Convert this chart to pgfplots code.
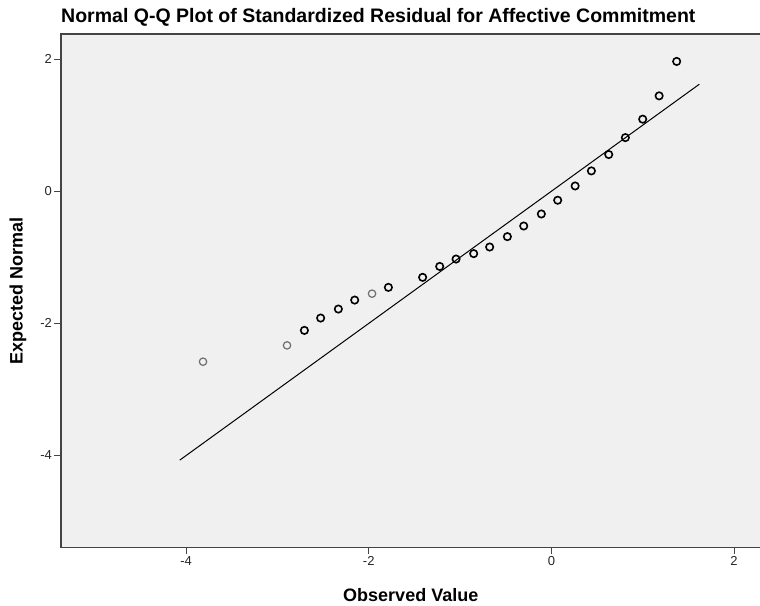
\documentclass[border=0pt]{standalone}
\usepackage{pgfplots}
\pgfplotsset{compat=1.18}
\usepackage{fontspec}
\setmainfont{Liberation Sans}
\definecolor{plotbg}{HTML}{F0F0F0}
\definecolor{framec}{HTML}{444444}
\definecolor{lightpt}{HTML}{6E6E6E}

\begin{document}
\begin{tikzpicture}
\begin{axis}[
  name=ax,
  scale only axis,
  width=699pt,
  height=513pt,
  xmin=-5.37, xmax=2.29,
  ymin=-5.39, ymax=2.38,
  xtick={-4,-2,0,2},
  xticklabels={{-4},{-2},{0},{2}},
  ytick={-4,-2,0,2},
  yticklabels={{-4},{-2},{0},{2}},
  axis background/.style={fill=plotbg},
  axis line style={framec, line width=1.5pt},
  tick style={framec, line width=1pt},
  major tick length=7pt,
  tick align=outside,
  xtick pos=bottom,
  ytick pos=left,
  ticklabel style={font=\fontsize{13}{15}\selectfont, text=black!85, inner sep=2pt},
  every axis x label/.style={at={(axis description cs:0.5,-0.0936)}, anchor=center},
  every axis y label/.style={at={(axis description cs:-0.0615,0.5)}, rotate=90, anchor=center},
  xlabel={\fontsize{18}{20}\selectfont\bfseries Observed Value},
  ylabel={\fontsize{18}{20}\selectfont\bfseries Expected Normal},
  title={\fontsize{19.5}{22}\selectfont\bfseries Normal Q-Q Plot of Standardized Residual for Affective Commitment},
  title style={at={(axis description cs:0,1)}, anchor=base west, yshift=5.5pt, inner sep=0pt},
  clip=false,
]
% reference line y = x
\addplot[black, line width=1pt] coordinates {(-4.07,-4.07) (1.62,1.62)};
% lighter (single) points
\addplot[only marks, mark=o, mark size=3.7pt, lightpt, line width=1.2pt] coordinates {
  (-3.815,-2.580) (-2.895,-2.333) (-1.964,-1.550)
};
% darker points
\addplot[only marks, mark=o, mark size=3.7pt, black, line width=1.6pt] coordinates {
  (-2.705,-2.106) (-2.527,-1.919) (-2.333,-1.783) (-2.154,-1.647)
  (-1.785,-1.455) (-1.410,-1.303) (-1.223,-1.138) (-1.044,-1.026)
  (-0.851,-0.944) (-0.676,-0.844) (-0.482,-0.687) (-0.303,-0.526)
  (-0.110,-0.344) (0.069,-0.136) (0.260,0.080) (0.438,0.308)
  (0.628,0.556) (0.810,0.812) (1.000,1.091) (1.180,1.444) (1.372,1.965)
};
\end{axis}
\pgfresetboundingbox
\path[use as bounding box] ([xshift=-61pt,yshift=-58pt]ax.south west) rectangle ([xshift=-0.5pt,yshift=34pt]ax.north east);
\end{tikzpicture}
\end{document}
